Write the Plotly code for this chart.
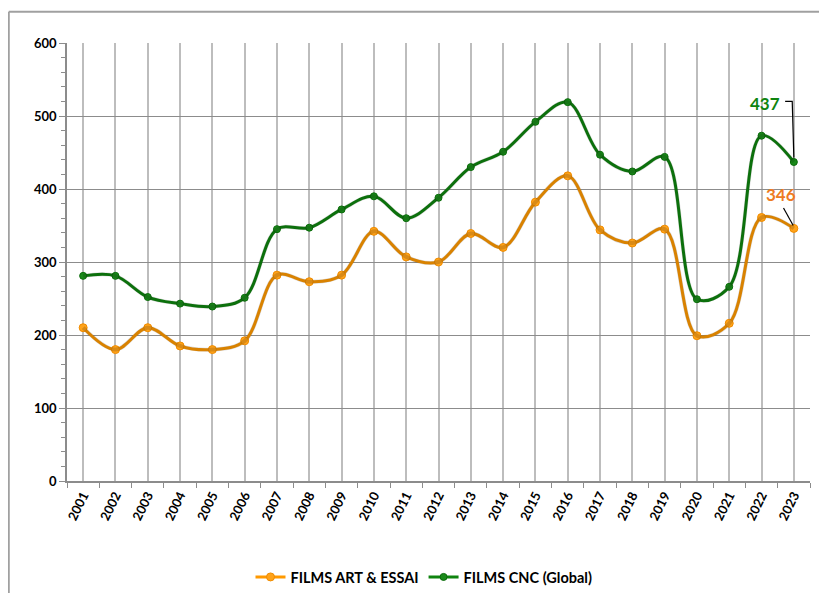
import plotly.graph_objects as go

years = list(range(2001, 2024))
year_labels = [str(y) for y in years]
art_essai = [210, 180, 210, 185, 180, 192, 282, 273, 282, 342, 307, 300, 339, 320, 382, 418, 344, 326, 345, 199, 216, 361, 346]
cnc_global = [281, 281, 252, 243, 239, 251, 345, 347, 372, 390, 360, 388, 430, 451, 492, 519, 447, 424, 444, 249, 266, 473, 437]

ORANGE = "#FF9900"
GREEN = "#0F840F"
FONT = "Lato"

OFF = 8  # page body margin
W, H = 827 - OFF, 593 - OFF
PL, PR, PT, PB = 67 - OFF, 810 - OFF, 43 - OFF, 481 - OFF  # plot area in figure pixels
SH = 3  # shadow offset px
pw, ph = PR - PL, PB - PT

fig = go.Figure()

# shadows (offset axes)
for vals in (art_essai, cnc_global):
    fig.add_trace(go.Scatter(x=years, y=vals, xaxis="x2", yaxis="y2", mode="lines",
                             line=dict(color="rgba(0,0,0,0.15)", width=4, shape="spline", smoothing=1.0),
                             hoverinfo="skip", showlegend=False))

fig.add_trace(go.Scatter(x=years, y=art_essai, name="FILMS ART & ESSAI", mode="lines+markers",
                         line=dict(color=ORANGE, width=3, shape="spline", smoothing=1.0),
                         marker=dict(color="#FFA31A", size=8, line=dict(color="#F08C00", width=1))))
fig.add_trace(go.Scatter(x=years, y=cnc_global, name="FILMS CNC (Global)", mode="lines+markers",
                         line=dict(color=GREEN, width=3, shape="spline", smoothing=1.0),
                         marker=dict(color="#1A8A1A", size=7, line=dict(color="#0B6B0B", width=1))))

xr = [2000.5, 2023.5]
yr = [0, 600]
bounds = [y + 0.5 for y in range(2000, 2024)]

fig.update_layout(
    width=W, height=H,
    margin=dict(l=PL, r=W - PR - SH, t=PT, b=H - PB - SH, autoexpand=False),
    paper_bgcolor="white", plot_bgcolor="white",
    font=dict(family=FONT, size=12, color="black"),
    showlegend=True,
    legend=dict(orientation="h", xref="container", yref="container", x=(424 - OFF) / W, xanchor="center",
                y=1 - (577 - OFF) / H, yanchor="middle",
                font=dict(family=FONT, size=14.5, color="black", weight="bold"),
                itemwidth=30, tracegroupgap=0),
    xaxis=dict(range=xr, domain=[0, 1 - SH / (pw + SH)], tickvals=years, ticktext=year_labels,
               tickangle=-64, ticks="", showgrid=True, gridcolor="#BDBDBD", gridwidth=1.5,
               showline=True, linecolor="#8C8C8C", linewidth=1.5, zeroline=False, automargin=False,
               tickfont=dict(family=FONT, size=13, color="black", weight="bold"),
               minor=dict(tickvals=bounds, ticks="outside", ticklen=5, tickcolor="#8C8C8C", showgrid=False)),
    yaxis=dict(range=yr, domain=[SH / (ph + SH), 1], dtick=100, ticks="outside", ticklen=6, tickcolor="#8C8C8C",
               showgrid=True, gridcolor="#8C8C8C", gridwidth=1.2, zeroline=False, automargin=False,
               showline=True, linecolor="#8C8C8C", linewidth=1.5,
               tickfont=dict(family=FONT, size=13, color="black", weight="bold"),
               minor=dict(dtick=20, ticks="outside", ticklen=4, tickcolor="#8C8C8C", showgrid=False)),
    xaxis2=dict(range=xr, domain=[SH / (pw + SH), 1], overlaying="x", visible=False),
    yaxis2=dict(range=yr, domain=[0, 1 - SH / (ph + SH)], overlaying="y", visible=False),
)

# outer border (chart frame)
bx = (1 - PL) / pw
by = (PB - (12 - OFF)) / ph
fig.add_shape(type="line", xref="paper", yref="paper", x0=bx, x1=bx, y0=by, y1=-0.4,
              line=dict(color="#A0A0A0", width=2))
fig.add_shape(type="line", xref="paper", yref="paper", x0=bx, x1=1.1, y0=by, y1=by,
              line=dict(color="#A0A0A0", width=2))

# end labels with leader lines
last_x = years[-1]
fig.add_annotation(x=2022.1, y=517, text=str(cnc_global[-1]), showarrow=False,
                   font=dict(family=FONT, size=17, color=GREEN, weight="bold"))
fig.add_shape(type="path", xref="x", yref="y",
              path=f"M 2022.73 520 L 2022.95 520 L {last_x} {cnc_global[-1] + 6}",
              line=dict(color="black", width=1.2))
fig.add_annotation(x=2022.6, y=392, text=str(art_essai[-1]), showarrow=False,
                   font=dict(family=FONT, size=17, color="#EE7B22", weight="bold"))
fig.add_shape(type="path", xref="x", yref="y",
              path=f"M 2022.68 374 L {last_x - 0.02} {art_essai[-1] + 4}",
              line=dict(color="black", width=1.2))

fig.write_html("out.html")
